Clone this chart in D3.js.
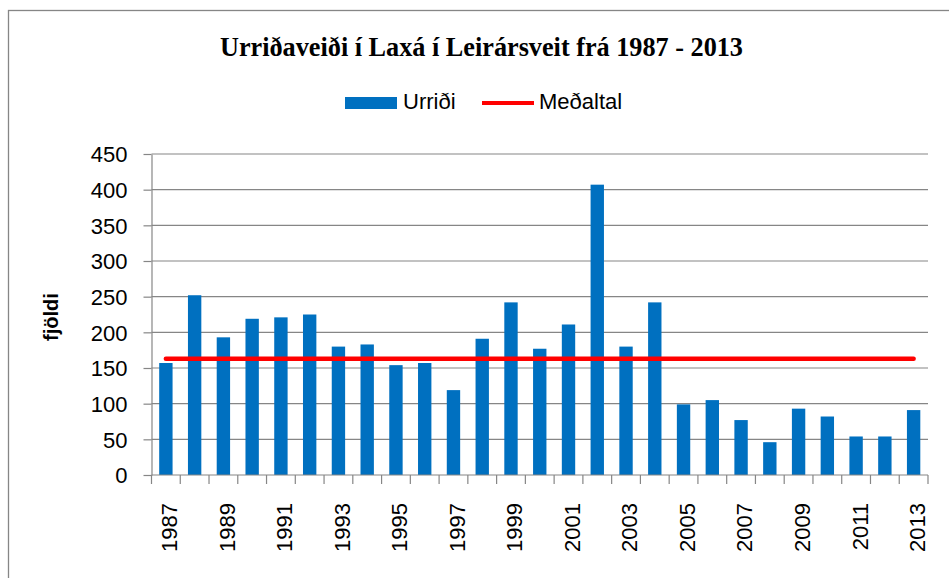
<!DOCTYPE html>
<html>
<head>
<meta charset="utf-8">
<script src="https://cdn.jsdelivr.net/npm/d3@7"></script>
<style>
  html, body { margin: 0; padding: 0; background: #fff; }
  svg { display: block; }
</style>
</head>
<body>
<svg id="chart" width="949" height="578"></svg>
<script>
const years = [1987,1988,1989,1990,1991,1992,1993,1994,1995,1996,1997,1998,1999,2000,
               2001,2002,2003,2004,2005,2006,2007,2008,2009,2010,2011,2012,2013];
const urridi = [157,252,193,219,221,225,180,183,154,157,119,191,242,177,
                211,407,180,242,99,105,77,46,93,82,54,54,91];
const medaltal = [163,163,163,163,163,163,163,163,163,163,163,163,163,163,
                  163,163,163,163,163,163,163,163,163,163,163,163,163];
const yTicks = [0,50,100,150,200,250,300,350,400,450];
const xTickLabels = [1987,1989,1991,1993,1995,1997,1999,2001,2003,2005,2007,2009,2011,2013];
const seriesNames = ["Urriði", "Meðaltal"];
const titleText = "Urriðaveiði í Laxá í Leirársveit frá 1987 - 2013";
const yTitle = "fjöldi";

const svg = d3.select("#chart");
const gray = "#868686";
const blue = "#0070C0";
const red = "#FF0000";
const sans = "'Liberation Sans', Arial, sans-serif";

// outer frame
svg.append("rect").attr("x", 8.5).attr("y", 10.5).attr("width", 1000).attr("height", 1000)
  .attr("fill", "none").attr("stroke", gray).attr("stroke-width", 1.3);

const plot = {left: 151.5, right: 928, top: 154, bottom: 475};

const x = d3.scaleBand().domain(years).range([plot.left, plot.right]).paddingInner(0.535).paddingOuter(0.2675);
const xb = d3.scaleBand().domain(years).range([plot.left, plot.right]);
const y = d3.scaleLinear().domain([0, 450]).range([plot.bottom, plot.top]);

// gridlines
svg.append("g").selectAll("line").data(yTicks.filter(d => d > 0)).join("line")
  .attr("x1", plot.left).attr("x2", plot.right)
  .attr("y1", d => y(d)).attr("y2", d => y(d))
  .attr("stroke", gray).attr("stroke-width", 1.2);

// bars
svg.append("g").selectAll("rect").data(years).join("rect")
  .attr("x", d => x(d)).attr("width", x.bandwidth())
  .attr("y", (d, i) => y(urridi[i])).attr("height", (d, i) => y(0) - y(urridi[i]))
  .attr("fill", blue);

// y axis
const yAxis = d3.axisLeft(y).tickValues(yTicks).tickSize(8).tickPadding(16).tickSizeOuter(0);
const gy = svg.append("g").attr("transform", `translate(${plot.left},0)`).call(yAxis);
gy.select(".domain").attr("stroke", gray).attr("stroke-width", 1.2);
gy.selectAll(".tick line").attr("stroke", gray).attr("stroke-width", 1.2);
gy.selectAll(".tick text").attr("font-family", sans).attr("font-size", 22).attr("fill", "#000")
  .attr("dy", "0.36em");

// x axis
const gx = svg.append("g").attr("transform", `translate(0,${plot.bottom})`);
gx.append("line").attr("x1", plot.left).attr("x2", plot.right).attr("y1", 0).attr("y2", 0)
  .attr("stroke", gray).attr("stroke-width", 1.2);
const boundaries = years.map(d => xb(d)).concat([plot.right]);
gx.selectAll("line.tk").data(boundaries).join("line").attr("class", "tk")
  .attr("x1", d => d).attr("x2", d => d).attr("y1", 0).attr("y2", 9)
  .attr("stroke", gray).attr("stroke-width", 1.2);
gx.selectAll("text").data(xTickLabels).join("text")
  .attr("transform", d => `translate(${xb(d) + xb.bandwidth() / 2 + 3.5},${28}) rotate(-90)`)
  .attr("text-anchor", "end").attr("dy", "0.36em")
  .attr("font-family", sans).attr("font-size", 22).attr("fill", "#000")
  .text(d => d);

// mean line
const line = d3.line().x(d => xb(d) + xb.bandwidth() / 2).y((d, i) => y(medaltal[i]));
svg.append("path").datum(years).attr("d", line)
  .attr("fill", "none").attr("stroke", red).attr("stroke-width", 4.5).attr("stroke-linecap", "round");

// y axis title
svg.append("text").attr("transform", "translate(58,317) rotate(-90)")
  .attr("text-anchor", "middle").attr("font-family", sans).attr("font-weight", "bold")
  .attr("font-size", 20).attr("fill", "#000").text(yTitle);

// title
svg.append("text").attr("x", 220).attr("y", 56)
  .attr("font-family", "'Liberation Serif', 'Times New Roman', serif").attr("font-weight", "bold")
  .attr("font-size", 27).attr("fill", "#000")
  .attr("textLength", 523).attr("lengthAdjust", "spacingAndGlyphs")
  .text(titleText);

// legend
const lg = svg.append("g");
lg.append("rect").attr("x", 345).attr("y", 97).attr("width", 52).attr("height", 12).attr("fill", blue);
lg.append("text").attr("x", 403).attr("y", 109).attr("font-family", sans).attr("font-size", 22)
  .attr("fill", "#000").text(seriesNames[0]);
lg.append("line").attr("x1", 482).attr("x2", 534).attr("y1", 103).attr("y2", 103)
  .attr("stroke", red).attr("stroke-width", 4);
lg.append("text").attr("x", 539).attr("y", 109).attr("font-family", sans).attr("font-size", 22)
  .attr("fill", "#000").text(seriesNames[1]);
</script>
</body>
</html>
